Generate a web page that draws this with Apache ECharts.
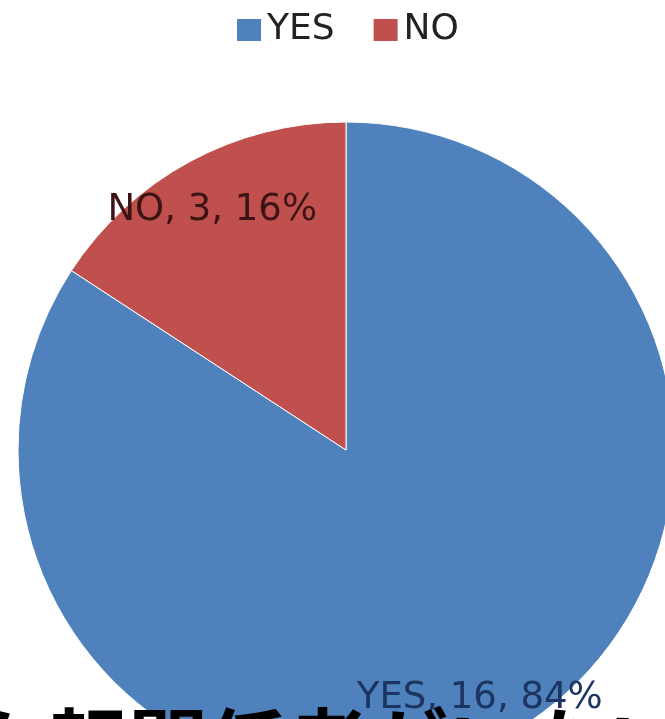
<!DOCTYPE html>
<html>
<head>
<meta charset="utf-8">
<script src="https://cdn.jsdelivr.net/npm/echarts@6/dist/echarts.min.js"></script>
<style>
html,body{margin:0;padding:0;background:#fff;}
#chart{width:665px;height:719px;}
</style>
</head>
<body>
<div id="chart"></div>
<script>
const categories = ['YES', 'NO'];
const values = [16, 3];
const colors = ['#4F81BD', '#C0504D'];
const labelColors = ['#1b3560', '#3d1414'];
const caption = '々報関係者がいない';

const data = categories.map((c, i) => ({ name: c, value: values[i] }));

const chart = echarts.init(document.getElementById('chart'));
chart.setOption({
  animation: false,
  color: colors,
  legend: {
    data: categories,
    left: 230,
    top: 5,
    itemWidth: 26,
    itemHeight: 24,
    itemGap: 37,
    icon: 'rect',
    textStyle: { fontFamily: 'DejaVu Sans', fontSize: 36, color: '#222', lineHeight: 40 }
  },
  series: [
    {
      type: 'pie',
      center: [346, 450],
      radius: [0, 328],
      startAngle: 90,
      clockwise: true,
      percentPrecision: 0,
      data: data,
      label: { show: false },
      labelLine: { show: false },
      itemStyle: { borderColor: '#ffffff', borderWidth: 1 },
      emphasis: { disabled: true },
      silent: true
    },
    {
      type: 'pie',
      center: [346, 450],
      radius: [228, 328],
      startAngle: 90,
      clockwise: true,
      percentPrecision: 0,
      data: data.map((d, i) => ({
        name: d.name, value: d.value,
        label: { color: labelColors[i] }
      })),
      itemStyle: { color: 'rgba(0,0,0,0)' },
      label: {
        show: true,
        position: 'inside',
        fontFamily: 'DejaVu Sans',
        fontSize: 37,
        formatter: p => p.name + ', ' + p.value + ', ' + p.percent + '%'
      },
      labelLayout: p => (p.dataIndex === 1 ? { dy: 8 } : { dy: 1 }),
      labelLine: { show: false },
      emphasis: { disabled: true },
      silent: true,
      legendHoverLink: false
    }
  ],
  graphic: [
    {
      type: 'text',
      left: -32,
      top: 705,
      z: 100,
      style: {
        text: caption,
        fontFamily: 'Noto Sans CJK JP',
        fontWeight: 'bold',
        fontSize: 80,
        fill: '#000'
      }
    }
  ]
});
</script>
</body>
</html>
